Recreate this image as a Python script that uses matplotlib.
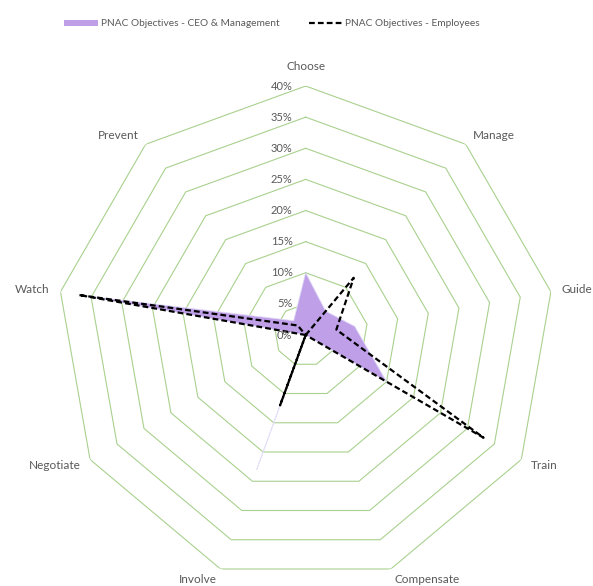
import numpy as np
import matplotlib.pyplot as plt
import matplotlib.transforms as mtransforms
from matplotlib.lines import Line2D
from matplotlib.patches import Patch

plt.rcParams['font.family'] = ['Lato', 'DejaVu Sans']

categories = ['Choose', 'Manage', 'Guide', 'Train', 'Compensate',
              'Involve', 'Negotiate', 'Watch', 'Prevent']
ceo_management = [0.10, 0.05, 0.08, 0.15, 0.00, 0.23, 0.00, 0.37, 0.03]
employees = [0.00, 0.12, 0.05, 0.33, 0.00, 0.12, 0.00, 0.37, 0.02]
ring_values = [0.05, 0.10, 0.15, 0.20, 0.25, 0.30, 0.35, 0.40]
tick_values = [0.00] + ring_values
tick_labels = ['0%', '5%', '10%', '15%', '20%', '25%', '30%', '35%', '40%']

grid_green = '#A9D18E'
fill_purple = '#BF9FE8'
text_grey = '#595959'

angles = np.linspace(0, 2 * np.pi, len(categories), endpoint=False)
closed_angles = np.append(angles, angles[0])

fig = plt.figure(figsize=(5.93, 5.86), dpi=100)
ax = fig.add_axes([0.0956, 0.0034, 0.8398, 0.8498], projection='polar')
ax.set_theta_offset(np.pi / 2)
ax.set_theta_direction(-1)
ax.set_ylim(0, 0.40)
ax.set_axis_off()

# polygon rings
for r in ring_values:
    ax.plot(closed_angles, [r] * len(closed_angles), color=grid_green, lw=0.8, zorder=1)

# series
ax.fill(closed_angles, ceo_management + ceo_management[:1], color=fill_purple,
        edgecolor=(0.88, 0.86, 0.97, 0.8), lw=0.7, zorder=2)
ax.plot(closed_angles, employees + employees[:1], color='black', lw=1.6,
        linestyle=(0, (2.6, 1.4)), zorder=3)

# radial tick labels
tick_trans = mtransforms.offset_copy(ax.transData, fig=fig, x=-9.5, y=0, units='points')
for v, lab in zip(tick_values, tick_labels):
    ax.text(0, v, lab, transform=tick_trans, ha='right', va='center',
            fontsize=8, color=text_grey, zorder=4)

# category labels
for ang, cat in zip(angles, categories):
    s = np.sin(ang)
    if abs(s) < 0.01:
        ax.text(ang, 0.432, cat, ha='center', va='center', fontsize=8.5,
                color=text_grey, clip_on=False)
    else:
        ax.text(ang, 0.418, cat, ha='left' if s > 0 else 'right', va='center',
                fontsize=8.5, color=text_grey, clip_on=False)

handles = [Patch(facecolor=fill_purple, edgecolor='none'),
           Line2D([0], [0], color='black', lw=1.6, linestyle=(0, (2.6, 1.4)))]
fig.legend(handles, ['PNAC Objectives - CEO & Management', 'PNAC Objectives - Employees'],
           loc='center', bbox_to_anchor=(0.459, 1 - 24 / 586), ncol=2, frameon=False,
           fontsize=7.3, handlelength=3.3, handleheight=0.55, handletextpad=0.3,
           columnspacing=2.9, labelcolor=text_grey)

fig.savefig('out.png', dpi=100)
